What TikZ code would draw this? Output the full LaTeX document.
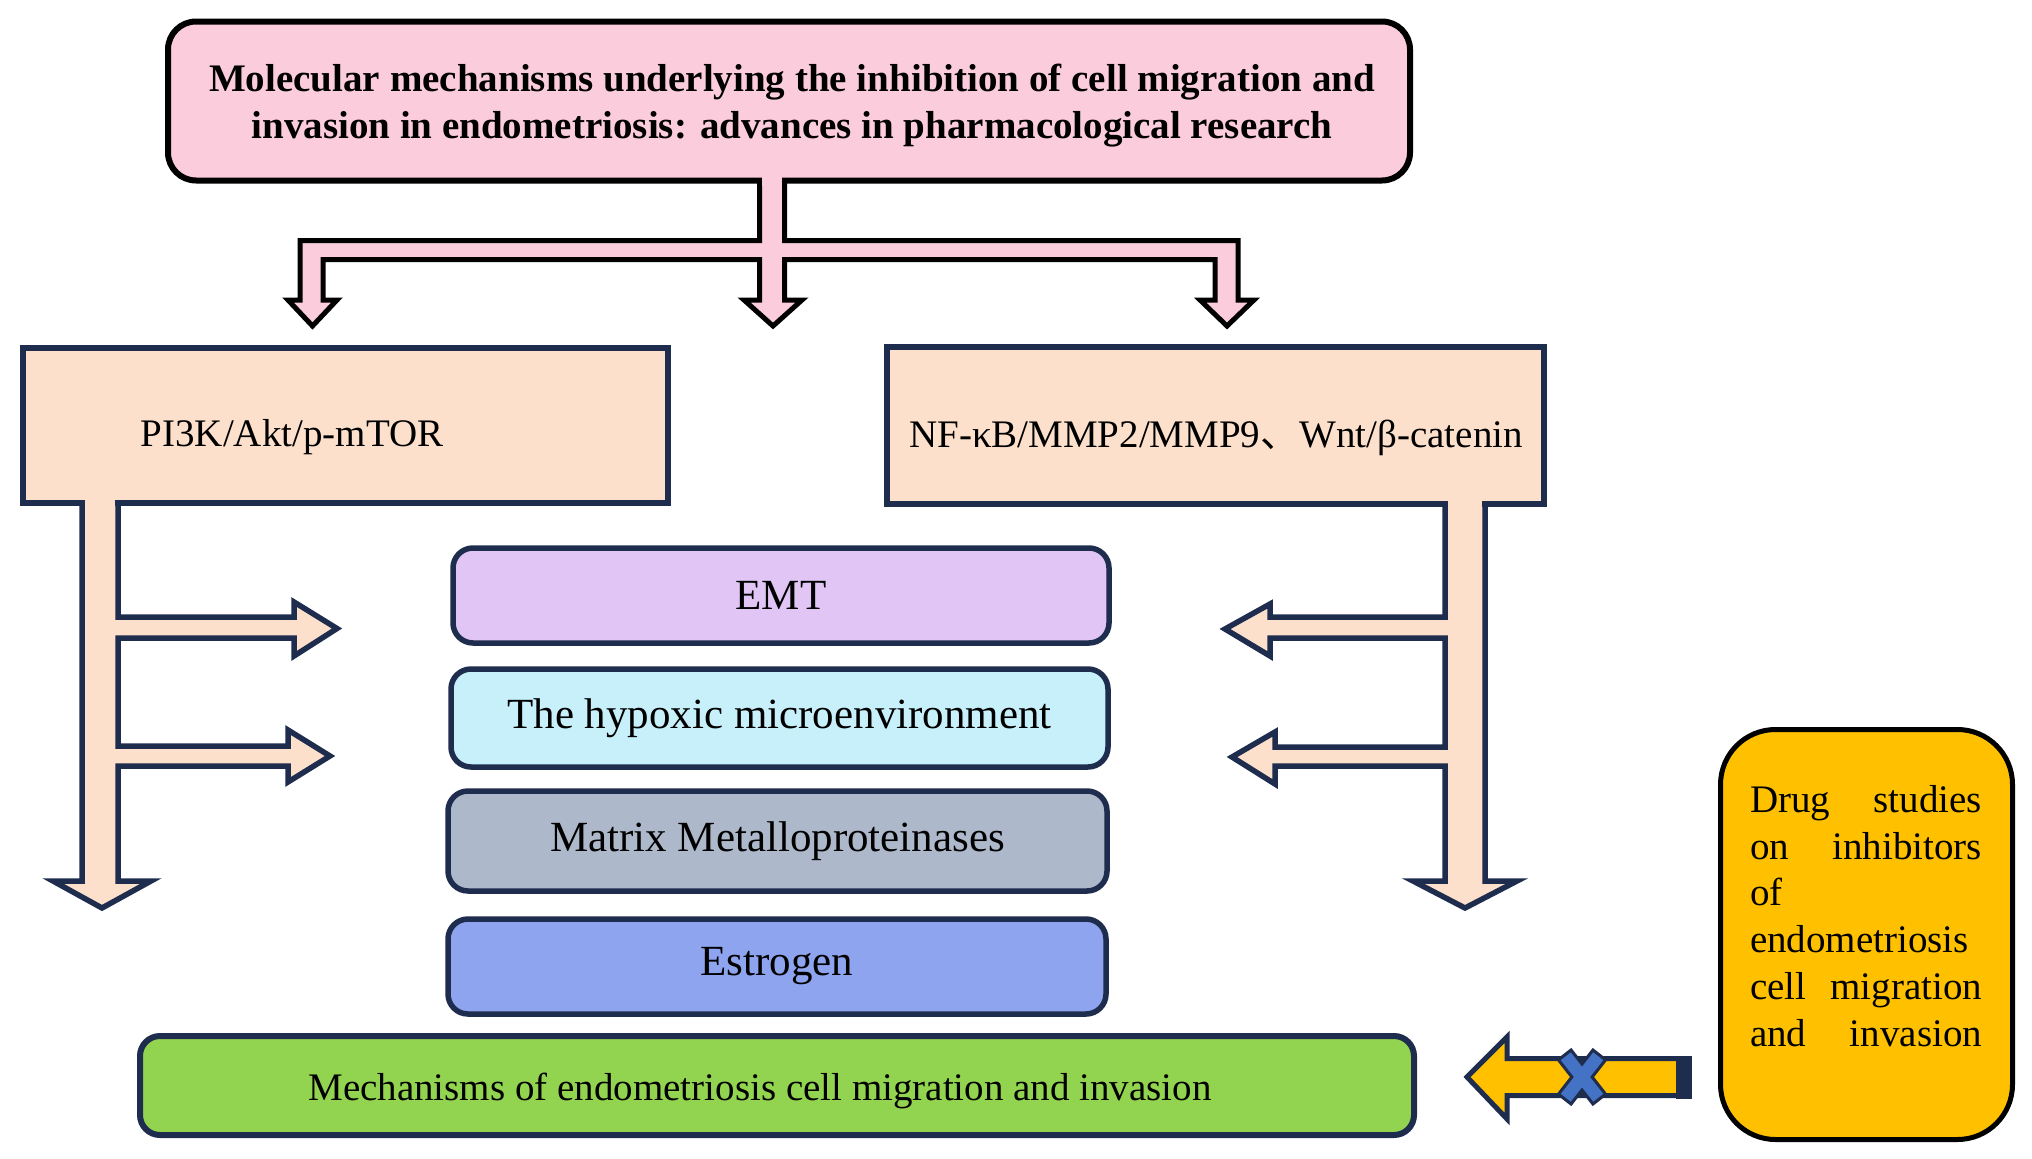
\documentclass[tikz,border=0pt]{standalone}
\usepackage{fontspec}
\setmainfont{Liberation Serif}
\newfontfamily\cjkfont{Noto Sans CJK SC}
\definecolor{pinkc}{RGB}{251,205,220}
\definecolor{peach}{RGB}{252,224,204}
\definecolor{navy}{RGB}{30,44,78}
\definecolor{emtc}{RGB}{224,197,245}
\definecolor{hypc}{RGB}{200,240,250}
\definecolor{mmpc}{RGB}{173,185,202}
\definecolor{estc}{RGB}{142,164,238}
\definecolor{greenc}{RGB}{146,212,80}
\definecolor{goldc}{RGB}{255,192,0}
\definecolor{xblue}{RGB}{68,114,196}
\begin{document}
\begin{tikzpicture}[x=1pt,y=-1pt,line join=miter,
  titlebox/.style={draw=black, fill=pinkc, line width=6pt, rounded corners=28pt,
    minimum width=1242pt, minimum height=159pt, inner sep=0pt},
  titletext/.style={inner sep=0pt, align=center, font=\bfseries\fontsize{39}{47}\selectfont},
  peachbox/.style={draw=navy, fill=peach, line width=6pt, inner sep=0pt},
  midbox/.style={draw=navy, fill=#1, line width=5.5pt, rounded corners=20pt,
    inner sep=0pt, font=\fontsize{43}{51.6}\selectfont},
  txt/.style={inner sep=0pt, font=\fontsize{39}{46.8}\selectfont},
  connpink/.style={fill=pinkc, draw=black, line width=5pt},
  connpeach/.style={fill=peach, draw=navy, line width=5.5pt}]
\useasboundingbox (0,0) rectangle (2032,1159);

% ---- top connector (pink) ----
\path[connpink] (759.5,170) -- (759.5,240.5) -- (300,240.5) -- (300,300) -- (288,300)
  -- (312.5,326) -- (337,300) -- (323,300) -- (323,259.5) -- (759.5,259.5)
  -- (759.5,300) -- (744,300) -- (773,326) -- (802,300) -- (784.5,300)
  -- (784.5,259.5) -- (1215,259.5) -- (1215,300) -- (1200,300) -- (1227,326)
  -- (1254,300) -- (1238,300) -- (1238,240.5) -- (784.5,240.5) -- (784.5,170) -- cycle;
\node[titlebox] (title) at (789,101) {};
\fill[pinkc] (762,174) rectangle (782,186);
\node[titletext] (titletxt) at (792,106) {Molecular mechanisms underlying the inhibition of cell migration and\\invasion in endometriosis: advances in pharmacological research};

% ---- left peach structure ----
\path[connpeach] (82,495) -- (82,881) -- (53,881) -- (102,908) -- (151,881) -- (118,881)
  -- (118,766) -- (288,766) -- (288,782) -- (330,756) -- (288,730) -- (288,746)
  -- (118,746) -- (118,638) -- (294,638) -- (294,656) -- (337,628.5) -- (294,602)
  -- (294,617) -- (118,617) -- (118,495) -- cycle;
\node[peachbox, minimum width=645pt, minimum height=155pt] (pi3k) at (345.5,425.5) {};
\fill[peach] (85,497) rectangle (115,509);
\node[txt, anchor=base] (pi3ktxt) at (292,446) {PI3K/Akt/p-mTOR};

% ---- right peach structure ----
\path[connpeach] (1445,495) -- (1445,617) -- (1270,617) -- (1270,604) -- (1225,629)
  -- (1270,656) -- (1270,638) -- (1445,638) -- (1445,747) -- (1275,747) -- (1275,732)
  -- (1232,757) -- (1275,784) -- (1275,766) -- (1445,766) -- (1445,881) -- (1413,881)
  -- (1465,908) -- (1517,881) -- (1485,881) -- (1485,495) -- cycle;
\node[peachbox, minimum width=657pt, minimum height=157pt] (nfkb) at (1215.5,425.5) {};
\fill[peach] (1448,497) rectangle (1482,510);
\node[txt, anchor=base] (nfkbtxt) at (1216,447) {NF-κB/MMP2/MMP9{\cjkfont 、}Wnt/β-catenin};

% ---- centre boxes ----
\node[midbox=emtc, minimum width=656pt, minimum height=95pt] (emt) at (781,595.5) {EMT};
\node[midbox=hypc, minimum width=657pt, minimum height=98pt] (hyp) at (779.5,718) {The hypoxic microenvironment};
\node[midbox=mmpc, minimum width=659pt, minimum height=100pt] (mmp) at (777.5,841) {Matrix Metalloproteinases};
\node[midbox=estc, minimum width=658pt, minimum height=95pt] (est) at (777,966.5) {Estrogen};

% ---- bottom green box ----
\node[draw=navy, fill=greenc, line width=6pt, rounded corners=20pt, inner sep=0pt,
  minimum width=1274pt, minimum height=99pt] (mech) at (777,1085.5) {};
\node[txt, anchor=base] (mechtxt) at (760,1100) {Mechanisms of endometriosis cell migration and invasion};

% ---- drug box ----
\node[draw=black, fill=goldc, line width=5pt, rounded corners=55pt, inner sep=0pt,
  minimum width=292pt, minimum height=410pt] (drug) at (1866.5,934.5) {};
\node[txt, text width=232pt, align=left] (drugtxt) at (1866,916)
  {\makebox[232pt]{Drug\hfill studies}\\\makebox[232pt]{on\hfill inhibitors}\\of\\endometriosis\\\makebox[232pt]{cell\hfill migration}\\\makebox[232pt]{and\hfill invasion}};

% ---- inhibited arrow ----
\path[fill=goldc, draw=navy, line width=5pt] (1467,1077) -- (1507,1037) -- (1507,1058.5)
  -- (1684,1058.5) -- (1684,1095.5) -- (1507,1095.5) -- (1507,1119) -- cycle;
\fill[navy] (1676,1055.5) rectangle (1692,1098.5);
\path[fill=xblue, draw=navy, line width=3pt, shift={(1582,1077)}]
  (23.55,17.13) -- (10.95,26.99) -- (0,12.99) -- (-10.95,26.99) -- (-23.55,17.13)
  -- (-10.15,0) -- (-23.55,-17.13) -- (-10.95,-26.99) -- (0,-12.99) -- (10.95,-26.99)
  -- (23.55,-17.13) -- (10.15,0) -- cycle;
\end{tikzpicture}
\end{document}
